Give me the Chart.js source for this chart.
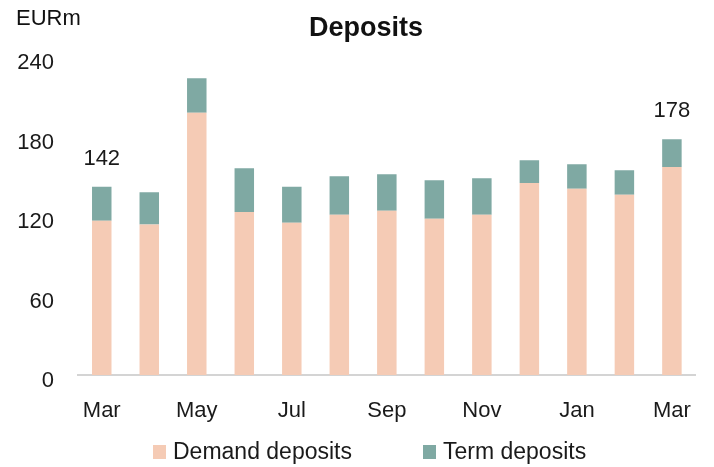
<!DOCTYPE html>
<html>
<head>
<meta charset="utf-8">
<script src="https://cdn.jsdelivr.net/npm/chart.js@4/dist/chart.umd.min.js"></script>
<style>
  body { margin: 0; background: #fff; }
  #wrap { position: relative; width: 714px; height: 467px; }
  #legend { position: absolute; left: 0; top: 438px; width: 714px; font-family: "Liberation Sans", sans-serif; font-size: 23px; color: #1a1a1a; }
  .item { position: absolute; top: 0; display: flex; align-items: center; }
  .box { width: 13px; height: 14px; margin-right: 7px; }
</style>
</head>
<body>
<div id="wrap">
  <canvas id="myChart" width="714" height="467"></canvas>
  <div id="legend"></div>
</div>
<script>
const months = ["Mar", "Apr", "May", "Jun", "Jul", "Aug", "Sep", "Oct", "Nov", "Dec", "Jan", "Feb", "Mar"];
const demandDeposits = [116.5, 113.5, 198, 123, 115, 121, 124, 118, 121, 145, 140.5, 136, 157];
const termDeposits = [25.5, 24.5, 26, 33, 27, 29, 27.5, 29, 27.5, 17, 18.5, 18.5, 21];
const labelledBars = [0, 12]; // totals written above these bars
const yTicks = [0, 60, 120, 180, 240];

const demandColor = "#f5cbb5";
const termColor = "#7fa9a3";
const fontFamily = "'Liberation Sans', sans-serif";

// legend as plain html, placed like the original
const legend = document.getElementById("legend");
const addItem = (text, color, left) => {
    const item = document.createElement("div");
    item.className = "item";
    item.style.left = left + "px";
    const box = document.createElement("div");
    box.className = "box";
    box.style.background = color;
    item.appendChild(box);
    const span = document.createElement("span");
    span.textContent = text;
    item.appendChild(span);
    legend.appendChild(item);
}
addItem("Demand deposits", demandColor, 153);
addItem("Term deposits", termColor, 423);

const headerText = {
    id: "headerText",
    afterDraw(chart) {
        const ctx = chart.ctx;
        ctx.save();
        ctx.fillStyle = "#111";
        ctx.textBaseline = "middle";
        ctx.font = "bold 27px " + fontFamily;
        ctx.textAlign = "center";
        ctx.fillText("Deposits", 366, 29);
        ctx.font = "22px " + fontFamily;
        ctx.textAlign = "left";
        ctx.fillText("EURm", 16, 19);
        ctx.restore();
    }
}

const totalLabels = {
    id: "totalLabels",
    afterDatasetsDraw(chart) {
        const ctx = chart.ctx;
        const meta = chart.getDatasetMeta(1);
        ctx.save();
        ctx.fillStyle = "#1a1a1a";
        ctx.font = "22px " + fontFamily;
        ctx.textAlign = "center";
        ctx.textBaseline = "middle";
        labelledBars.forEach(i => {
            const bar = meta.data[i];
            const total = Math.round(demandDeposits[i] + termDeposits[i]);
            ctx.fillText(total, bar.x, bar.y - 28);
        });
        ctx.restore();
    }
}

new Chart(document.getElementById("myChart"), {
    type: "bar",
    data: {
        labels: months,
        datasets: [{
            label: "Demand deposits",
            data: demandDeposits,
            backgroundColor: demandColor,
            barPercentage: 1,
            categoryPercentage: 0.41
        }, {
            label: "Term deposits",
            data: termDeposits,
            backgroundColor: termColor,
            barPercentage: 1,
            categoryPercentage: 0.41
        }]
    },
    options: {
        responsive: false,
        animation: false,
        layout: { padding: { top: 57, right: 4, bottom: 42, left: 0 } },
        plugins: {
            legend: { display: false },
            title: { display: false },
            tooltip: { enabled: false }
        },
        scales: {
            x: {
                stacked: true,
                grid: { display: false, drawTicks: false },
                border: { color: "#d4d4d4", width: 2 },
                ticks: {
                    autoSkip: false,
                    maxRotation: 0,
                    padding: 23,
                    color: "#1a1a1a",
                    font: { family: fontFamily, size: 22 },
                    callback: (v, i) => i % 2 === 0 ? months[i] : ""
                },
                afterFit: (axis) => { axis.height = 50; }
            },
            y: {
                stacked: true,
                min: 0,
                max: 240,
                grid: { display: false, drawTicks: false },
                border: { display: false },
                afterBuildTicks: (axis) => { axis.ticks = yTicks.map(v => ({ value: v })); },
                ticks: {
                    padding: 24,
                    labelOffset: 6,
                    color: "#1a1a1a",
                    font: { family: fontFamily, size: 22 }
                },
                afterFit: (axis) => { axis.width = 78; }
            }
        }
    },
    plugins: [headerText, totalLabels]
});
</script>
</body>
</html>
